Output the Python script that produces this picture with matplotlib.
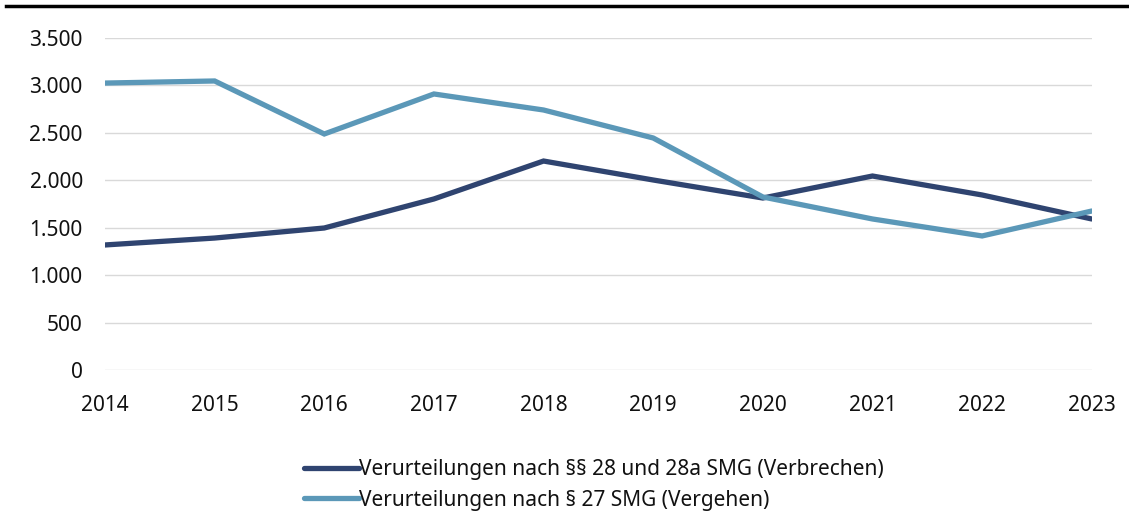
import matplotlib
matplotlib.use("Agg")
import matplotlib.pyplot as plt
from matplotlib.lines import Line2D
from matplotlib.ticker import FuncFormatter

plt.rcParams['font.family'] = ['Noto Sans', 'DejaVu Sans']

years = [2014, 2015, 2016, 2017, 2018, 2019, 2020, 2021, 2022, 2023]
verbrechen = [1318, 1391, 1497, 1803, 2203, 2003, 1813, 2045, 1845, 1592]
vergehen = [3025, 3047, 2488, 2910, 2741, 2446, 1824, 1592, 1413, 1676]

label_verbrechen = "Verurteilungen nach §§ 28 und 28a SMG (Verbrechen)"
label_vergehen = "Verurteilungen nach § 27 SMG (Vergehen)"

dark = "#2f4470"
light = "#5b98b8"

fig = plt.figure(figsize=(11.29, 5.15), dpi=100)
ax = fig.add_axes([0.093, 0.2816, 0.874, 0.6446])

ax.plot(years, verbrechen, color=dark, lw=3.8, solid_capstyle='round',
        solid_joinstyle='miter', label=label_verbrechen)
ax.plot(years, vergehen, color=light, lw=3.8, solid_capstyle='round',
        solid_joinstyle='miter', label=label_vergehen)

ax.set_xlim(2014, 2023)
ax.set_ylim(0, 3500)
ax.set_yticks(range(0, 3501, 500))
ax.set_xticks(years)
ax.yaxis.set_major_formatter(FuncFormatter(lambda v, p: f"{int(v):,}".replace(",", ".")))
ax.grid(axis='y', color='#d9d9d9', lw=1)
ax.set_axisbelow(True)
for s in ax.spines.values():
    s.set_visible(False)
ax.tick_params(length=0, labelsize=15, colors='#111111')
ax.tick_params(axis='y', pad=16)
ax.tick_params(axis='x', pad=18)

leg = fig.legend(loc='lower center', bbox_to_anchor=(0.526, -0.016), ncol=1,
                 frameon=False, fontsize=15, handlelength=2.6, handletextpad=0.0,
                 labelspacing=0.45, borderaxespad=0.2)
for t in leg.get_texts():
    t.set_color('#111111')

fig.add_artist(Line2D([0.005, 1.0], [1 - 6 / 515, 1 - 6 / 515], color='black', lw=2.5,
                      transform=fig.transFigure))

fig.savefig("out.png", dpi=100)
